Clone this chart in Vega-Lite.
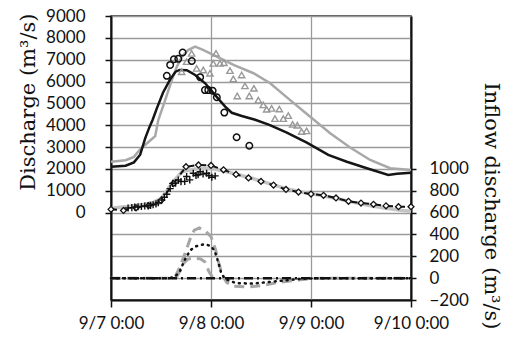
{
  "$schema": "https://vega.github.io/schema/vega-lite/v6.json",
  "width": 300,
  "height": 284,
  "autosize": {"type": "none"},
  "padding": {"left": 111, "top": 16, "right": 94, "bottom": 37},
  "background": "white",
  "config": {
    "view": {"stroke": "#222", "strokeWidth": 1.5},
    "axis": {
      "labelFont": "Lato", "labelFontSize": 17, "labelColor": "#111",
      "titleFont": "DejaVu Serif", "titleFontSize": 21, "titleFontWeight": "normal", "titleColor": "#111",
      "domainColor": "#111", "domainWidth": 2, "tickColor": "#111", "tickWidth": 1.5,
      "gridColor": "#9a9a9a", "gridWidth": 1.3, "gridOpacity": 1,
      "labelOverlap": false, "labelFlush": false, "labelBound": false
    }
  },
  "datasets": {
    "simBlack": [
      {"h":0,"v":2100},{"h":3.5,"v":2150},{"h":5.5,"v":2300},{"h":7,"v":2650},{"h":8.2,"v":3400},{"h":9.2,"v":3900},{"h":10,"v":4250},{"h":11,"v":4770},{"h":12.5,"v":5500},{"h":14.2,"v":6100},{"h":15.5,"v":6450},{"h":16.5,"v":6530},{"h":18.2,"v":6520},{"h":20.2,"v":6300},{"h":22.6,"v":5920},{"h":25,"v":5380},{"h":27.4,"v":4850},{"h":29,"v":4570},{"h":31.4,"v":4420},{"h":34.6,"v":4250},{"h":38,"v":4020},{"h":42.2,"v":3660},{"h":47,"v":3200},{"h":52.15,"v":2640},{"h":56.6,"v":2330},{"h":61.4,"v":2030},{"h":66.55,"v":1720},{"h":68.6,"v":1780},{"h":72,"v":1830}
    ],
    "simGray": [
      {"h":0,"v":2330},{"h":3.5,"v":2400},{"h":5.5,"v":2550},{"h":7,"v":2900},{"h":9.4,"v":3300},{"h":10.6,"v":3500},{"h":11.35,"v":4240},{"h":13,"v":5150},{"h":14.6,"v":6070},{"h":15.8,"v":6680},{"h":17,"v":7140},{"h":18.5,"v":7440},{"h":20.2,"v":7600},{"h":22.2,"v":7440},{"h":25.4,"v":7140},{"h":29.4,"v":6760},{"h":34.2,"v":6380},{"h":38.2,"v":5920},{"h":43,"v":5150},{"h":47.8,"v":4390},{"h":52.6,"v":3630},{"h":57.4,"v":2980},{"h":62.2,"v":2410},{"h":67,"v":2030},{"h":72,"v":1950}
    ],
    "simInflowUpper": [
      {"h":0,"v":200},{"h":4,"v":280},{"h":8,"v":380},{"h":10,"v":450},{"h":12,"v":650},{"h":13.4,"v":1000},{"h":14.8,"v":1400},{"h":16,"v":1650},{"h":17,"v":1870},{"h":19,"v":1950},{"h":21,"v":2020},{"h":24,"v":2030},{"h":26,"v":1950},{"h":30,"v":1760},{"h":34,"v":1560},{"h":38,"v":1330},{"h":42,"v":1100},{"h":46,"v":930},{"h":50,"v":800},{"h":54,"v":650},{"h":58,"v":480},{"h":62,"v":330},{"h":66,"v":200},{"h":70,"v":100},{"h":72,"v":60}
    ],
    "obsCircles": [
      {"h":13.4,"v":6260},{"h":14.2,"v":6760},{"h":15.1,"v":7020},{"h":16.15,"v":7040},{"h":17.2,"v":7330},{"h":19.4,"v":6940},{"h":21.4,"v":6200},{"h":22.55,"v":5610},{"h":23.35,"v":5610},{"h":24.4,"v":5580},{"h":25.4,"v":5280},{"h":27.2,"v":4580},{"h":30.15,"v":3450},{"h":33.2,"v":3060}
    ],
    "obsTriangles": [
      {"h":16.95,"v":6450},{"h":18.15,"v":6910},{"h":19.35,"v":7290},{"h":20.55,"v":6600},{"h":22.15,"v":6530},{"h":23.75,"v":6380},{"h":24.55,"v":6830},{"h":25.2,"v":7290},{"h":26.15,"v":6830},{"h":27.1,"v":6860},{"h":28.55,"v":6500},{"h":29.35,"v":6120},{"h":31.35,"v":6300},{"h":32.15,"v":5800},{"h":30.3,"v":5340},{"h":33.2,"v":5340},{"h":34.3,"v":5690},{"h":35.35,"v":5150},{"h":36.55,"v":4930},{"h":37.35,"v":4730},{"h":38.55,"v":4770},{"h":40.4,"v":4740},{"h":39.35,"v":4300},{"h":41.35,"v":4300},{"h":42.55,"v":4440},{"h":43.6,"v":4040},{"h":44.7,"v":4000},{"h":45.75,"v":3710},{"h":46.95,"v":3740}
    ],
    "obsDiamonds": [
      {"h":0,"v":150},{"h":3,"v":100},{"h":6,"v":220},{"h":9,"v":320},{"h":12,"v":550},{"h":15,"v":1330},{"h":18,"v":2100},{"h":21,"v":2180},{"h":24,"v":2160},{"h":27,"v":1960},{"h":30,"v":1750},{"h":33,"v":1590},{"h":36,"v":1430},{"h":39,"v":1260},{"h":42,"v":1060},{"h":45,"v":940},{"h":48,"v":850},{"h":51,"v":790},{"h":54,"v":670},{"h":57,"v":520},{"h":60,"v":440},{"h":63,"v":380},{"h":66,"v":310},{"h":69,"v":270},{"h":72,"v":270}
    ],
    "obsCrosses": [
      {"h":4.1,"v":210},{"h":5.0,"v":230},{"h":5.7,"v":250},{"h":6.5,"v":265},{"h":7.3,"v":280},{"h":8.1,"v":300},{"h":8.9,"v":310},{"h":9.5,"v":330},{"h":10.1,"v":360},{"h":10.8,"v":400},{"h":11.35,"v":450},{"h":12.2,"v":580},{"h":12.8,"v":700},{"h":13.4,"v":840},{"h":14.2,"v":1100},{"h":14.8,"v":1340},{"h":15.5,"v":1350},{"h":16.15,"v":1490},{"h":16.8,"v":1420},{"h":17.7,"v":1430},{"h":18.15,"v":1650},{"h":18.9,"v":1500},{"h":19.75,"v":1800},{"h":20.4,"v":1700},{"h":20.9,"v":1730},{"h":21.4,"v":1870},{"h":22.1,"v":1770},{"h":22.95,"v":1800},{"h":23.5,"v":1700},{"h":24.2,"v":1620},{"h":25,"v":1680}
    ],
    "inflowDashTall": [
      {"h":0,"r":0},{"h":14,"r":0},{"h":15.5,"r":20},{"h":16.5,"r":100},{"h":17.8,"r":230},{"h":19,"r":360},{"h":20,"r":440},{"h":21.2,"r":460},{"h":22.7,"r":430},{"h":24,"r":380},{"h":25.1,"r":260},{"h":26,"r":120},{"h":26.8,"r":20},{"h":27.8,"r":-40},{"h":29.5,"r":-75},{"h":33,"r":-80},{"h":36,"r":-70},{"h":40,"r":-40},{"h":44,"r":-20},{"h":48,"r":-5},{"h":52,"r":0},{"h":72,"r":0}
    ],
    "inflowDashLow": [
      {"h":15.5,"r":0},{"h":16.5,"r":60},{"h":17.5,"r":140},{"h":18.5,"r":175},{"h":20,"r":185},{"h":21.5,"r":175},{"h":22.5,"r":150},{"h":23.5,"r":60},{"h":24.5,"r":0}
    ],
    "inflowDotted": [
      {"h":0,"r":0},{"h":14,"r":0},{"h":15.3,"r":13},{"h":16.5,"r":60},{"h":17.6,"r":160},{"h":18.4,"r":215},{"h":19.2,"r":260},{"h":20.3,"r":290},{"h":21.6,"r":305},{"h":22.6,"r":310},{"h":23.9,"r":295},{"h":24.8,"r":255},{"h":25.4,"r":190},{"h":26,"r":110},{"h":26.5,"r":40},{"h":27.5,"r":-10},{"h":30,"r":-45},{"h":34,"r":-50},{"h":38,"r":-35},{"h":42,"r":-20},{"h":46,"r":-5},{"h":50,"r":0},{"h":72,"r":0}
    ],
    "inflowDashDot": [
      {"h":0,"r":0},{"h":72,"r":0}
    ]
  },
  "encoding": {
    "x": {
      "field": "h", "type": "quantitative",
      "scale": {"domain": [0, 72], "nice": false, "zero": false},
      "axis": {
        "values": [0, 24, 48, 72],
        "labelExpr": "['9/7 0:00','9/8 0:00','9/9 0:00','9/10 0:00'][round(datum.value / 24)]",
        "title": null, "grid": true, "tickSize": 7, "labelPadding": 8
      }
    }
  },
  "layer": [
    {
      "encoding": {
        "y": {
          "field": "v", "type": "quantitative",
          "scale": {"domain": [-4000, 9000], "nice": false, "zero": false},
          "axis": {
            "orient": "left",
            "values": [-4000, -3000, -2000, -1000, 0, 1000, 2000, 3000, 4000, 5000, 6000, 7000, 8000, 9000],
            "format": "d",
            "labelExpr": "datum.value < 0 ? '' : datum.label",
            "tickOpacity": {"condition": {"test": "datum.value < 0", "value": 0}, "value": 1},
            "grid": true, "tickSize": 6, "labelPadding": 20,
            "title": "Discharge (m³/s)",
            "titleAngle": 270, "titleX": -83, "titleY": -3, "titleAlign": "right", "titleBaseline": "middle"
          }
        }
      },
      "layer": [
        {"data": {"name": "simInflowUpper"}, "mark": {"type": "line", "color": "#c4c4c4", "strokeWidth": 3.5}},
        {"data": {"name": "simGray"}, "mark": {"type": "line", "color": "#a8a8a8", "strokeWidth": 2.5}},
        {"data": {"name": "simBlack"}, "mark": {"type": "line", "color": "#151515", "strokeWidth": 2.5}},
        {"data": {"name": "obsTriangles"}, "mark": {"type": "point", "shape": "triangle-up", "filled": false, "color": "#999999", "size": 40, "strokeWidth": 1.4, "opacity": 1}},
        {"data": {"name": "obsCircles"}, "mark": {"type": "point", "shape": "circle", "filled": false, "color": "#111111", "size": 42, "strokeWidth": 1.5, "opacity": 1}},
        {"data": {"name": "obsDiamonds"}, "mark": {"type": "line", "color": "#111111", "strokeWidth": 2, "strokeDash": [6, 6]}},
        {"data": {"name": "obsDiamonds"}, "mark": {"type": "point", "shape": "diamond", "filled": true, "fill": "white", "stroke": "#111111", "size": 35, "strokeWidth": 1.3, "opacity": 1}},
        {"data": {"name": "obsCrosses"}, "mark": {"type": "point", "shape": "M-1,0L1,0M0,-1L0,1", "filled": false, "color": "#111111", "size": 50, "strokeWidth": 1.4, "opacity": 1}}
      ]
    },
    {
      "encoding": {
        "y": {
          "field": "r", "type": "quantitative",
          "scale": {"domain": [-200, 2400], "nice": false, "zero": false},
          "axis": {
            "orient": "right",
            "values": [-200, 0, 200, 400, 600, 800, 1000],
            "format": "d",
            "grid": false, "tickSize": 5, "labelPadding": 13,
            "title": "Inflow discharge (m³/s)",
            "titleAngle": 90, "titleX": 79, "titleY": 66, "titleAlign": "left", "titleBaseline": "middle"
          }
        }
      },
      "layer": [
        {"data": {"name": "inflowDashTall"}, "mark": {"type": "line", "color": "#a6a6a6", "strokeWidth": 3, "strokeDash": [10, 6]}},
        {"data": {"name": "inflowDashLow"}, "mark": {"type": "line", "color": "#a6a6a6", "strokeWidth": 3, "strokeDash": [10, 6]}},
        {"data": {"name": "inflowDashDot"}, "mark": {"type": "line", "color": "#111111", "strokeWidth": 2.5, "strokeDash": [9, 4, 2, 4]}},
        {"data": {"name": "inflowDotted"}, "mark": {"type": "line", "color": "#111111", "strokeWidth": 2.5, "strokeDash": [1, 5], "strokeCap": "round"}}
      ]
    }
  ],
  "resolve": {"scale": {"y": "independent"}, "axis": {"y": "independent"}}
}
